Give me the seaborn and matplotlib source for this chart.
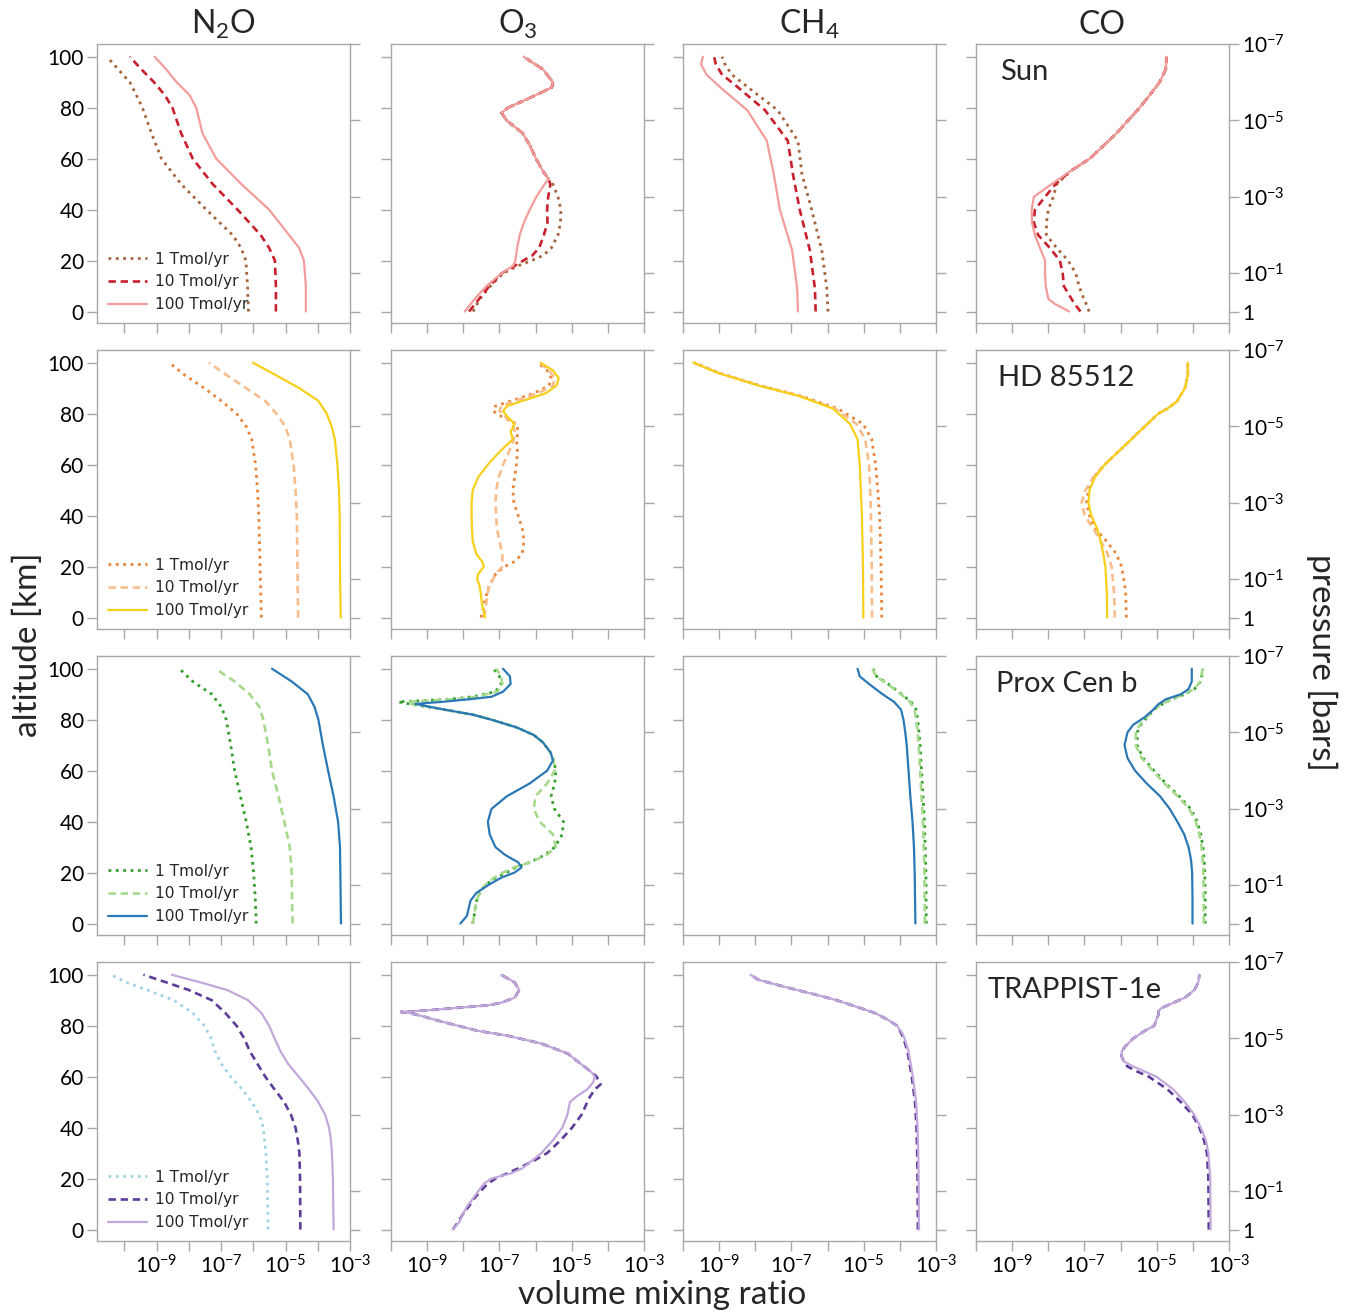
import numpy as np
import matplotlib
matplotlib.use("Agg")
import matplotlib.pyplot as plt
import seaborn as sns

# ---------------------------------------------------------------------------
# Mixing-ratio profiles, stored as log10(VMR) against altitude [km].
# Three N2O surface fluxes per host star: 1, 10 and 100 Tmol/yr.
# ---------------------------------------------------------------------------
stars = ["Sun", "HD 85512", "Prox Cen b", "TRAPPIST-1e"]
species = ["N2O", "O3", "CH4", "CO"]
species_titles = [r"N$_2$O", r"O$_3$", r"CH$_4$", "CO"]
flux_labels = ["1 Tmol/yr", "10 Tmol/yr", "100 Tmol/yr"]

# --- Sun -------------------------------------------------------------------
sun_n2o_z = [0, 10, 20, 25, 30, 40, 50, 60, 70, 80, 85, 90, 95, 100]
sun_n2o_1 = [-6.15, -6.18, -6.23, -6.38, -6.64, -7.46, -8.24, -8.85, -9.16, -9.44, -9.63, -9.83, -10.19, -10.54]
sun_n2o_10 = [-5.30, -5.30, -5.33, -5.51, -5.77, -6.49, -7.26, -7.88, -8.24, -8.51, -8.75, -9.08, -9.47, -9.83]
sun_n2o_100 = [-4.37, -4.37, -4.43, -4.58, -4.89, -5.51, -6.37, -7.15, -7.58, -7.77, -7.98, -8.38, -8.70, -9.06]

sun_o3_z = [0, 5, 10, 15, 18, 20, 22, 25, 30, 35, 40, 45, 50, 52, 55, 60, 65, 70, 75, 78, 80, 85, 88, 90, 95, 100]
sun_o3_1 = [-7.73, -7.54, -7.25, -6.90, -6.48, -6.11, -5.79, -5.56, -5.38, -5.31, -5.30, -5.38, -5.52,
            -5.64, -5.79, -5.99, -6.15, -6.36, -6.80, -6.94, -6.76, -5.98, -5.55, -5.52, -5.79, -6.33]
sun_o3_10 = [-7.84, -7.56, -7.28, -6.94, -6.57, -6.34, -6.09, -5.90, -5.77, -5.67, -5.68, -5.65, -5.59,
             -5.64, -5.79, -5.99, -6.15, -6.36, -6.80, -6.94, -6.76, -5.98, -5.55, -5.52, -5.79, -6.33]
sun_o3_100 = [-7.96, -7.68, -7.36, -6.94, -6.62, -6.56, -6.54, -6.51, -6.44, -6.32, -6.16, -5.98, -5.75,
              -5.64, -5.79, -5.99, -6.15, -6.36, -6.80, -6.94, -6.76, -5.98, -5.55, -5.52, -5.79, -6.33]

sun_ch4_z = [0, 9, 24, 40, 54, 67, 79, 88, 93, 97, 100]
sun_ch4_1 = [-5.99, -6.02, -6.16, -6.44, -6.71, -6.82, -7.38, -8.20, -8.65, -8.84, -8.92]
sun_ch4_10 = [-6.33, -6.35, -6.49, -6.77, -6.96, -7.10, -7.73, -8.48, -8.92, -9.09, -9.14]
sun_ch4_100 = [-6.82, -6.84, -6.98, -7.32, -7.49, -7.68, -8.22, -8.97, -9.35, -9.50, -9.45]

sun_co_z = [0, 3, 5, 10, 15, 20, 25, 30, 35, 40, 45, 50, 55, 60, 70, 80, 85, 90, 95, 100]
sun_co_1 = [-6.87, -6.95, -7.02, -7.15, -7.24, -7.45, -7.77, -8.05, -8.05, -8.00, -7.86, -7.77,
            -7.40, -6.85, -6.11, -5.47, -5.19, -4.92, -4.75, -4.73]
sun_co_10 = [-7.11, -7.27, -7.36, -7.57, -7.60, -7.68, -7.96, -8.28, -8.40, -8.37, -8.09, -7.80,
             -7.40, -6.85, -6.11, -5.47, -5.19, -4.92, -4.75, -4.73]
sun_co_100 = [-7.42, -7.82, -8.00, -8.07, -8.09, -8.09, -8.23, -8.37, -8.45, -8.46, -8.40, -7.91,
              -7.40, -6.85, -6.11, -5.47, -5.19, -4.92, -4.75, -4.73]

# --- HD 85512 --------------------------------------------------------------
hd_n2o_z = [0, 20, 40, 50, 60, 70, 75, 80, 85, 90, 95, 100]
hd_n2o_1 = [-5.75, -5.79, -5.83, -5.87, -5.93, -6.05, -6.22, -6.52, -6.99, -7.52, -8.11, -8.61]
hd_n2o_10 = [-4.61, -4.63, -4.65, -4.69, -4.75, -4.87, -5.01, -5.28, -5.63, -6.22, -6.81, -7.38]
hd_n2o_100 = [-3.29, -3.31, -3.32, -3.34, -3.39, -3.47, -3.57, -3.72, -3.98, -4.57, -5.28, -6.01]

hd_o3_z = [0, 2, 5, 10, 13, 15, 17, 20, 22, 25, 30, 35, 40, 45, 50, 55, 60, 65, 70, 73, 76, 79,
           81, 83, 85, 88, 91, 94, 97, 100]
hd_o3_1 = [-7.51, -7.47, -7.43, -7.34, -7.27, -7.18, -7.11, -6.85, -6.58, -6.37, -6.32, -6.37, -6.48,
           -6.60, -6.63, -6.58, -6.53, -6.50, -6.53, -6.48, -6.53, -6.95, -7.17, -7.11, -6.69, -6.05,
           -5.63, -5.57, -5.68, -5.94]
hd_o3_10 = [-7.43, -7.40, -7.37, -7.32, -7.27, -7.18, -7.11, -6.92, -6.92, -6.92, -7.00, -7.07, -7.09,
            -7.11, -7.09, -7.02, -6.90, -6.74, -6.60, -6.58, -6.63, -6.85, -7.00, -6.95, -6.58, -5.94,
            -5.52, -5.47, -5.63, -5.89]
hd_o3_100 = [-7.40, -7.43, -7.48, -7.52, -7.56, -7.62, -7.59, -7.43, -7.48, -7.64, -7.74, -7.76, -7.77,
             -7.77, -7.74, -7.59, -7.32, -7.00, -6.63, -6.69, -6.58, -6.79, -6.90, -6.79, -6.37, -5.72,
             -5.42, -5.36, -5.52, -5.86]

hd_ch4_z = [0, 20, 40, 50, 60, 70, 76, 82, 87, 91, 96, 100]
hd_ch4_1 = [-4.50, -4.52, -4.56, -4.61, -4.67, -4.78, -5.02, -5.72, -6.75, -7.86, -9.00, -9.69]
hd_ch4_10 = [-4.77, -4.78, -4.80, -4.82, -4.85, -4.96, -5.20, -5.80, -6.78, -7.88, -9.02, -9.70]
hd_ch4_100 = [-5.01, -5.02, -5.05, -5.08, -5.11, -5.17, -5.38, -5.85, -6.80, -7.90, -9.03, -9.71]

hd_co_z = [0, 10, 20, 25, 30, 35, 40, 45, 50, 55, 60, 65, 70, 75, 80, 82, 85, 90, 95, 100]
hd_co_1 = [-5.84, -5.86, -5.97, -6.12, -6.39, -6.71, -6.86, -6.94, -6.89, -6.74, -6.44, -6.07,
           -5.70, -5.33, -4.96, -4.70, -4.43, -4.22, -4.14, -4.14]
hd_co_10 = [-6.16, -6.18, -6.25, -6.36, -6.55, -6.76, -6.99, -7.08, -6.97, -6.76, -6.44, -6.07,
            -5.70, -5.33, -4.96, -4.70, -4.43, -4.22, -4.14, -4.14]
hd_co_100 = [-6.37, -6.38, -6.42, -6.48, -6.55, -6.65, -6.81, -6.89, -6.86, -6.71, -6.44, -6.07,
             -5.70, -5.33, -4.96, -4.70, -4.43, -4.22, -4.14, -4.14]

# --- Proxima Centauri b ----------------------------------------------------
prox_n2o_z = [0, 10, 20, 30, 40, 50, 60, 70, 80, 85, 90, 95, 100]
prox_n2o_1 = [-5.91, -5.94, -5.99, -6.07, -6.22, -6.40, -6.58, -6.70, -6.84, -6.99, -7.29, -7.88, -8.29]
prox_n2o_10 = [-4.78, -4.80, -4.81, -4.87, -5.04, -5.22, -5.42, -5.54, -5.69, -5.81, -6.11, -6.58, -7.17]
prox_n2o_100 = [-3.28, -3.29, -3.30, -3.31, -3.37, -3.51, -3.68, -3.84, -3.98, -4.10, -4.31, -4.81, -5.42]

prox_o3_z = [0, 3, 6, 9, 12, 15, 18, 20, 22, 24, 27, 30, 35, 40, 45, 50, 55, 60, 64, 67, 71, 74,
             77, 80, 82, 84, 86.2, 87, 88, 89, 91, 94, 97, 100]
prox_o3_1 = [-7.74, -7.70, -7.67, -7.63, -7.55, -7.40, -7.10, -6.80, -6.55, -6.16, -5.73, -5.47, -5.26,
             -5.23, -5.48, -5.57, -5.47, -5.44, -5.50, -5.58, -5.79, -6.05, -6.53, -7.22, -7.74, -8.54,
             -9.50, -9.80, -8.40, -7.74, -7.11, -6.95, -7.00, -7.16]
prox_o3_10 = [-7.74, -7.70, -7.67, -7.63, -7.55, -7.40, -7.15, -6.90, -6.60, -6.16, -5.68, -5.44, -5.52,
              -5.89, -6.05, -6.00, -5.68, -5.47, -5.50, -5.58, -5.79, -6.05, -6.53, -7.22, -7.74, -8.54,
              -9.43, -9.54, -8.30, -7.64, -7.06, -6.92, -6.95, -7.09]
prox_o3_100 = [-8.08, -7.90, -7.85, -7.80, -7.64, -7.32, -6.95, -6.58, -6.39, -6.48, -6.85, -7.11, -7.27,
               -7.32, -7.22, -6.79, -6.16, -5.68, -5.52, -5.58, -5.79, -6.05, -6.53, -7.22, -7.74, -8.54,
               -9.33, -8.59, -7.85, -7.22, -6.90, -6.69, -6.71, -6.90]

prox_ch4_z = [0, 20, 30, 40, 50, 60, 70, 75, 80, 84, 87, 90, 94, 97, 100]
prox_ch4_1 = [-3.27, -3.28, -3.30, -3.32, -3.36, -3.40, -3.44, -3.47, -3.51, -3.55, -3.69, -3.95, -4.32, -4.64, -4.74]
prox_ch4_10 = [-3.31, -3.32, -3.34, -3.36, -3.40, -3.44, -3.48, -3.51, -3.55, -3.59, -3.72, -3.97, -4.34, -4.66, -4.76]
prox_ch4_100 = [-3.57, -3.59, -3.61, -3.65, -3.71, -3.76, -3.81, -3.85, -3.90, -3.97, -4.16, -4.48, -4.85, -5.11, -5.17]

prox_co_z = [0, 10, 20, 25, 30, 35, 40, 45, 50, 55, 60, 65, 70, 75, 78, 81, 84, 86, 88, 90, 92, 95, 100]
prox_co_1 = [-3.66, -3.66, -3.67, -3.69, -3.72, -3.78, -3.88, -4.06, -4.38, -4.75, -5.07, -5.38,
             -5.54, -5.54, -5.44, -5.26, -5.07, -4.86, -4.59, -4.22, -3.96, -3.78, -3.72]
prox_co_10 = [-3.70, -3.70, -3.71, -3.73, -3.76, -3.82, -3.92, -4.10, -4.42, -4.79, -5.11, -5.42,
              -5.58, -5.58, -5.47, -5.28, -5.08, -4.87, -4.60, -4.23, -3.97, -3.79, -3.73]
prox_co_100 = [-4.01, -4.01, -4.02, -4.05, -4.12, -4.24, -4.43, -4.64, -4.91, -5.28, -5.60, -5.81,
               -5.89, -5.81, -5.65, -5.33, -5.09, -4.96, -4.75, -4.33, -4.12, -4.03, -4.03]

# --- TRAPPIST-1e (1 Tmol/yr only shown for N2O) ----------------------------
trap_n2o_z = [0, 20, 30, 35, 40, 45, 50, 55, 60, 65, 70, 75, 80, 85, 90, 94, 97, 100]
trap_n2o_1 = [-5.54, -5.57, -5.61, -5.65, -5.69, -5.81, -6.05, -6.34, -6.70, -6.99, -7.19, -7.31,
              -7.52, -7.88, -8.47, -9.29, -9.94, -10.42]
trap_n2o_10 = [-4.54, -4.55, -4.57, -4.62, -4.69, -4.83, -5.04, -5.34, -5.63, -5.87, -6.11, -6.28,
               -6.52, -6.87, -7.29, -8.00, -8.70, -9.41]
trap_n2o_100 = [-3.51, -3.53, -3.56, -3.59, -3.65, -3.77, -3.98, -4.27, -4.59, -4.92, -5.16, -5.34,
                -5.51, -5.75, -6.16, -6.81, -7.64, -8.53]

trap_o3_z = [0, 3, 6, 9, 12, 15, 18, 20, 22, 24, 27, 30, 35, 40, 45, 50, 52, 55, 57, 58, 60, 62,
             66, 69, 73, 76, 78, 82, 84, 85, 85.4, 86, 87, 88, 89, 91, 94, 97, 100]
trap_o3_10 = [-8.29, -8.14, -8.01, -7.85, -7.71, -7.53, -7.32, -7.11, -6.79, -6.48, -6.05, -5.68,
              -5.31, -4.99, -4.73, -4.57, -4.50, -4.36, -4.20, -4.25, -4.31, -4.47, -4.84, -5.10,
              -5.84, -6.75, -7.60, -8.70, -9.20, -9.50, -9.72, -9.01, -8.17, -7.32, -6.95, -6.58,
              -6.45, -6.58, -6.95]
trap_o3_100 = [-8.29, -8.11, -8.01, -7.90, -7.74, -7.59, -7.43, -7.22, -6.69, -6.37, -6.10, -5.84,
               -5.52, -5.26, -5.12, -5.05, -4.89, -4.57, -4.45, -4.40, -4.36, -4.47, -4.84, -5.10,
               -5.84, -6.75, -7.60, -8.70, -9.20, -9.50, -9.72, -9.01, -8.17, -7.32, -6.95, -6.58,
               -6.45, -6.58, -6.95]

trap_ch4_z = [0, 20, 30, 40, 50, 60, 70, 75, 77, 80, 82, 85, 87, 90, 92, 95, 98, 100]
trap_ch4_10 = [-3.50, -3.51, -3.52, -3.54, -3.58, -3.67, -3.79, -3.90, -3.96, -4.08, -4.29, -4.69,
               -5.11, -5.75, -6.28, -7.12, -7.91, -8.13]
trap_ch4_100 = [-3.47, -3.48, -3.49, -3.51, -3.55, -3.64, -3.76, -3.87, -3.93, -4.08, -4.29, -4.69,
                -5.11, -5.75, -6.28, -7.12, -7.91, -8.13]

trap_co_z = [0, 20, 30, 35, 40, 45, 50, 55, 60, 62, 64, 66, 68, 70, 72, 75, 78, 80, 82, 84, 86, 87,
             89, 91, 94, 97, 100]
trap_co_10 = [-3.56, -3.57, -3.61, -3.69, -3.82, -4.01, -4.33, -4.70, -5.22, -5.54, -5.81, -5.91,
              -5.97, -5.97, -5.86, -5.65, -5.33, -5.07, -5.02, -4.96, -4.94, -4.86, -4.54, -4.22,
              -3.96, -3.85, -3.82]
trap_co_100 = [-3.51, -3.52, -3.57, -3.64, -3.78, -3.96, -4.22, -4.54, -5.01, -5.33, -5.65, -5.91,
               -5.97, -5.97, -5.86, -5.65, -5.33, -5.07, -5.02, -4.96, -4.94, -4.86, -4.54, -4.22,
               -3.96, -3.85, -3.82]

# Pressure ticks on the right-hand axis [bar]
pressure_ticks = [1e-7, 1e-5, 1e-3, 1e-1, 1.0]
pressure_labels = [r"$10^{-7}$", r"$10^{-5}$", r"$10^{-3}$", r"$10^{-1}$", "1"]
km_per_decade = 15.0

# Per-row colours: (1, 10, 100 Tmol/yr)
row_colors = [
    ["#a5643c", "#c8202c", "#f29c9c"],
    ["#e8853a", "#f7bd8c", "#f6d01a"],
    ["#33a02c", "#a6d98c", "#2a78b5"],
    ["#9fd4e0", "#5e3c99", "#c2a8da"],
]

profiles = {
    ("Sun", "N2O"): (sun_n2o_z, [sun_n2o_1, sun_n2o_10, sun_n2o_100]),
    ("Sun", "O3"): (sun_o3_z, [sun_o3_1, sun_o3_10, sun_o3_100]),
    ("Sun", "CH4"): (sun_ch4_z, [sun_ch4_1, sun_ch4_10, sun_ch4_100]),
    ("Sun", "CO"): (sun_co_z, [sun_co_1, sun_co_10, sun_co_100]),
    ("HD 85512", "N2O"): (hd_n2o_z, [hd_n2o_1, hd_n2o_10, hd_n2o_100]),
    ("HD 85512", "O3"): (hd_o3_z, [hd_o3_1, hd_o3_10, hd_o3_100]),
    ("HD 85512", "CH4"): (hd_ch4_z, [hd_ch4_1, hd_ch4_10, hd_ch4_100]),
    ("HD 85512", "CO"): (hd_co_z, [hd_co_1, hd_co_10, hd_co_100]),
    ("Prox Cen b", "N2O"): (prox_n2o_z, [prox_n2o_1, prox_n2o_10, prox_n2o_100]),
    ("Prox Cen b", "O3"): (prox_o3_z, [prox_o3_1, prox_o3_10, prox_o3_100]),
    ("Prox Cen b", "CH4"): (prox_ch4_z, [prox_ch4_1, prox_ch4_10, prox_ch4_100]),
    ("Prox Cen b", "CO"): (prox_co_z, [prox_co_1, prox_co_10, prox_co_100]),
    ("TRAPPIST-1e", "N2O"): (trap_n2o_z, [trap_n2o_1, trap_n2o_10, trap_n2o_100]),
    ("TRAPPIST-1e", "O3"): (trap_o3_z, [None, trap_o3_10, trap_o3_100]),
    ("TRAPPIST-1e", "CH4"): (trap_ch4_z, [None, trap_ch4_10, trap_ch4_100]),
    ("TRAPPIST-1e", "CO"): (trap_co_z, [None, trap_co_10, trap_co_100]),
}

# ---------------------------------------------------------------------------
sns.set_theme(style="white")
plt.rcParams["font.family"] = ["Lato", "DejaVu Sans"]
plt.rcParams["mathtext.fontset"] = "custom"
plt.rcParams["mathtext.rm"] = "Lato"
plt.rcParams["mathtext.it"] = "Lato:italic"
plt.rcParams["mathtext.bf"] = "Lato:bold"

GRID = "#a8a8a8"
W, H = 1348, 1313
fig = plt.figure(figsize=(W / 100, H / 100), dpi=100)

lefts = [97, 391, 683, 976]
tops = [44, 350, 656, 962]
aw, ah = 253, 279
ylim = (-4.5, 105)
line_styles = [":", (0, (2.8, 1.8)), "-"]
line_widths = [2.0, 1.9, 1.6]
label_x = [0.095, 0.087, 0.079, 0.047]
TICK_SIZE = 15

for r, star in enumerate(stars):
    for c, sp in enumerate(species):
        ax = fig.add_axes([lefts[c] / W, 1 - (tops[r] + ah) / H, aw / W, ah / H])
        z, series = profiles[(star, sp)]
        for k, logv in enumerate(series):
            if logv is None:
                continue
            sns.lineplot(
                x=10.0 ** np.asarray(logv), y=np.asarray(z, dtype=float),
                sort=False, estimator=None, ax=ax,
                color=row_colors[r][k], linestyle=line_styles[k],
                linewidth=line_widths[k],
                label=flux_labels[k] if c == 0 else None,
            )
        ax.set_xscale("log")
        ax.set_xlim(10 ** -10.85 if c == 0 else 1e-10, 1e-3)
        ax.set_ylim(*ylim)

        # x ticks at every decade, labelled on odd exponents in the bottom row
        decades = list(range(-10, -2))
        ax.set_xticks([10.0 ** d for d in decades])
        if r == 3:
            ax.set_xticklabels([rf"$10^{{{d}}}$" if d % 2 else "" for d in decades])
        else:
            ax.set_xticklabels([])
        ax.minorticks_off()
        ax.set_yticks([0, 20, 40, 60, 80, 100])
        if c != 0:
            ax.set_yticklabels([])
        ax.set_xlabel("")
        ax.set_ylabel("")
        ax.tick_params(axis="both", which="both", direction="out", length=7.5, width=1,
                       color=GRID, labelcolor="black", labelsize=TICK_SIZE, pad=2,
                       bottom=True, left=True, top=False, right=False)
        for s in ax.spines.values():
            s.set_color(GRID)
            s.set_linewidth(1.0)

        # Pressure scale on the right
        ax2 = ax.twinx()
        ax2.set_ylim(*ylim)
        ax2.set_yticks([-km_per_decade * np.log10(p) for p in pressure_ticks])
        ax2.set_yticklabels(pressure_labels if c == 3 else [])
        ax2.tick_params(axis="y", direction="out", length=7.5, width=1, color=GRID,
                        labelcolor="black", labelsize=TICK_SIZE, pad=2, right=True)
        for s in ax2.spines.values():
            s.set_visible(False)

        if c == 0:
            ax.legend(loc="lower left", frameon=False, handlelength=2.5,
                      handletextpad=0.55, labelspacing=0.5, borderaxespad=0.3,
                      prop={"family": "DejaVu Sans", "size": 11.2})
        else:
            lg = ax.get_legend()
            if lg is not None:
                lg.remove()

        if r == 0:
            ax.set_title(species_titles[c], fontsize=23, pad=7)
        if c == 3:
            ax.text(label_x[r], 0.9, star, transform=ax.transAxes, fontsize=21,
                    ha="left", va="center")

fig.text(28 / W, 1 - 645 / H, "altitude [km]", rotation=90, ha="center", va="center", fontsize=24)
fig.text(1322 / W, 1 - 662 / H, "pressure [bars]", rotation=270, ha="center", va="center", fontsize=24)
fig.text(662 / W, 1 - 1295 / H, "volume mixing ratio", ha="center", va="center", fontsize=24)

fig.savefig("out.png", dpi=100, facecolor="white")
